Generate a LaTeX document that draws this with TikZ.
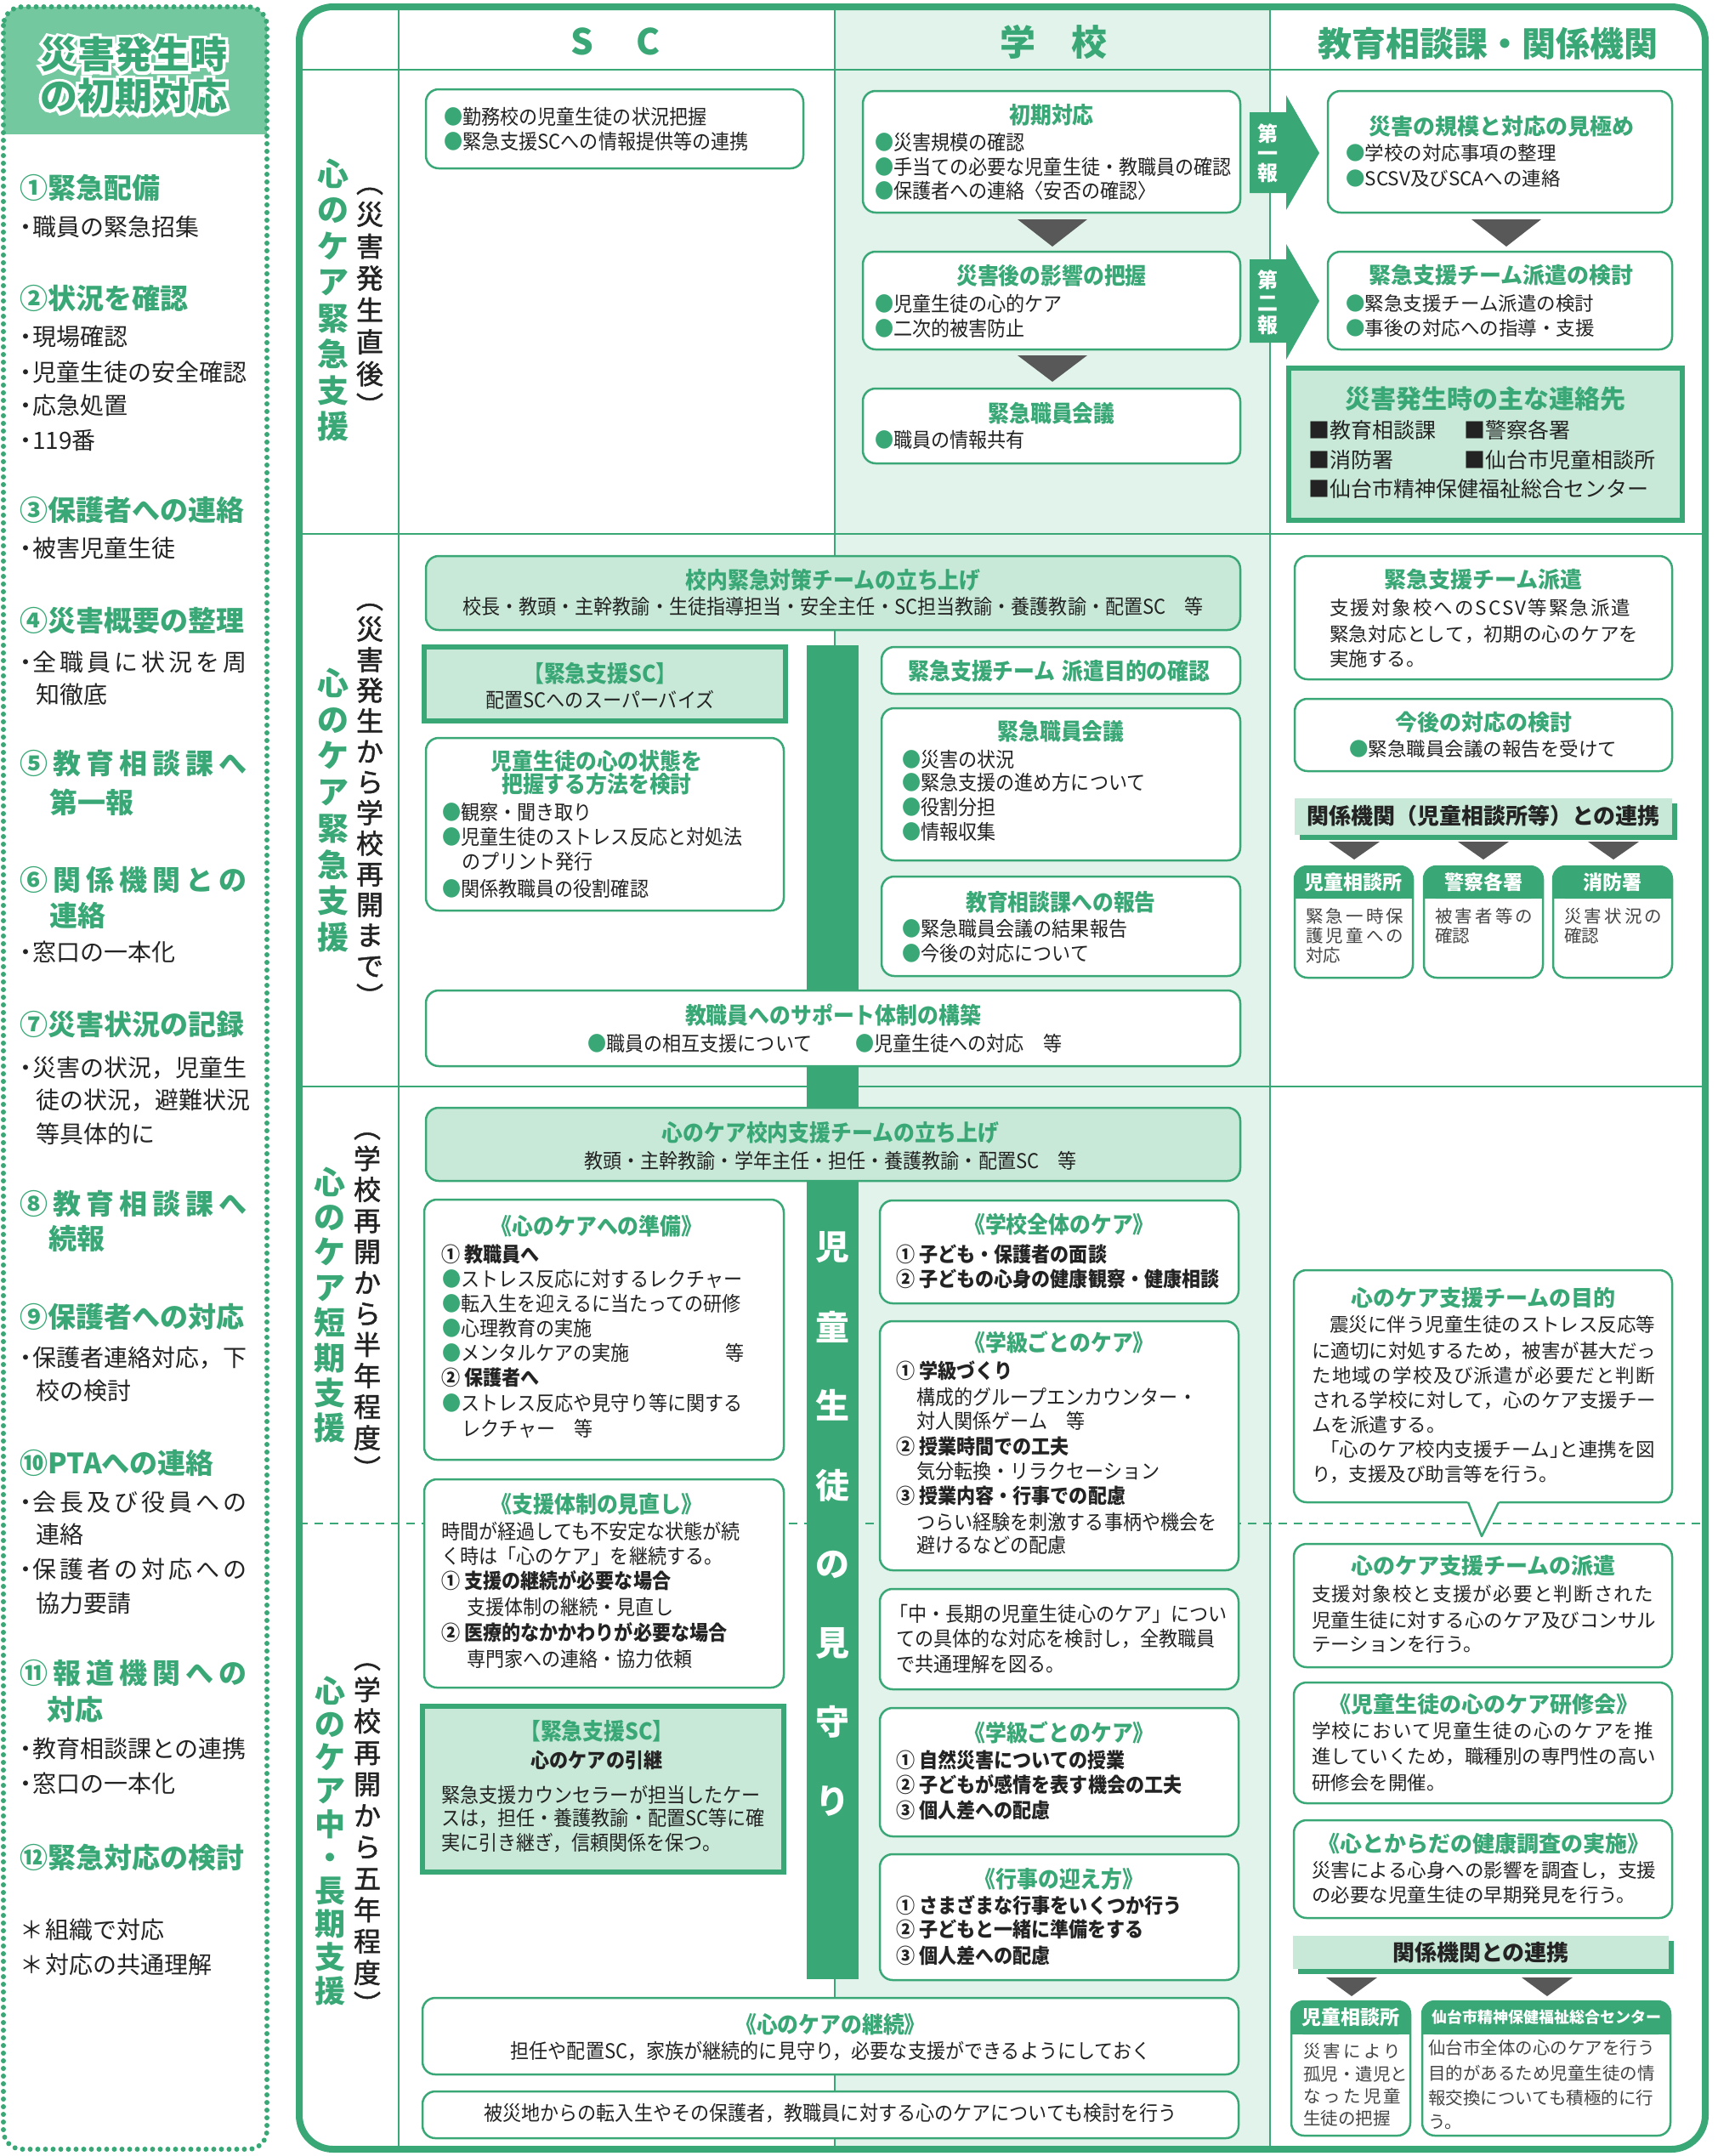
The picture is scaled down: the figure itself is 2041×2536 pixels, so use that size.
\documentclass[tikz,border=0pt]{standalone}
\usepackage{fontspec}
\setmainfont{Noto Sans CJK JP}
\newfontfamily\cnd[FakeStretch=0.92]{Noto Sans CJK JP}
\definecolor{gr}{RGB}{58,168,118}
\definecolor{lg}{RGB}{200,233,216}
\definecolor{col}{RGB}{225,243,234}
\definecolor{hd}{RGB}{115,200,160}
\definecolor{dk}{RGB}{88,88,88}
\definecolor{tx}{RGB}{35,35,35}
\newcounter{tn}
\newcommand\Tnode[5]{\node[txt,#2] (#1) at (#3,#4) {#5};}
\newcommand\T[4][]{\stepcounter{tn}\edef\tmpn{t\arabic{tn}}\expandafter\Tnode\expandafter{\tmpn}{#1}{#2}{#3}{#4}}
\newcommand\Bx[6][box]{\node[#1,anchor=north west,inner sep=0pt,outer sep=0pt,minimum width={#5-#3},minimum height={#6-#4}] (#2) at (#3,#4) {};}
\def\sprA#1{#1\sprB}
\def\sprB#1{\ifx\relax#1\else\hfill#1\expandafter\sprB\fi}
\newcommand\spr[2]{\hbox to #1{\sprA#2\relax}}
\newcommand\B{{\color{gr}●}}
\newcommand\Tri[4]{\fill[dk] ({#1-#3},#2) -- ({#1+#3},#2) -- (#1,{#2+#4}) -- cycle;}
\newcommand\Hd[4]{\fill[gr,rounded corners=14pt] (#1,#2) rectangle (#3,#4); \fill[gr] (#1,{#2+18}) rectangle (#3,#4);}
\begin{document}
\begin{tikzpicture}[x=1pt,y=-1pt,
  txt/.style={anchor=west,inner sep=0pt,text=tx},
  box/.style={draw=gr,line width=2.5pt,rounded corners=15pt,fill=white},
  gbox/.style={box,fill=lg},
  tbox/.style={draw=gr,line width=6pt,fill=lg},
  bnr/.style={fill=lg,draw=none},
  barst/.style={fill=gr,draw=none},
  st/.style={font=\fontsize{44}{46}\selectfont\bfseries,anchor=center},
  sto/.style={font=\fontsize{44}{46}\selectfont\bfseries\addfontfeature{FakeBold=16},anchor=center,text=white},
  sb/.style={font=\fontsize{28}{30}\selectfont},
  sh/.style={font=\fontsize{33}{35}\selectfont\bfseries,text=gr},
  hdr/.style={font=\fontsize{42}{44}\selectfont\bfseries,text=gr,anchor=center},
  ct/.style={font=\cnd\fontsize{24}{26}\selectfont},
  cb/.style={font=\cnd\fontsize{24}{26}\selectfont\bfseries},
  ctl/.style={font=\cnd\fontsize{27}{29}\selectfont\bfseries,text=gr,anchor=center},
  rtx/.style={font=\fontsize{22.5}{24}\selectfont},
  rtt/.style={font=\fontsize{26}{28}\selectfont\bfseries,text=gr,anchor=center},
  bn/.style={font=\fontsize{26}{28}\selectfont\bfseries,anchor=center},
  oh/.style={font=\fontsize{23}{25}\selectfont\bfseries,text=white,anchor=center},
  ob/.style={font=\fontsize{20.5}{22}\selectfont,text=tx!85},
  arw/.style={text=white,anchor=center,align=center},
  bt/.style={font=\fontsize{40}{42}\selectfont\bfseries,text=white,anchor=center},
  vg/.style={text=gr,align=center,anchor=center},
  vb/.style={text=tx,align=center,anchor=center}]
\useasboundingbox (0,0) rectangle (2041,2536);

% ---------------- sidebar ----------------
\begin{scope}
\clip[rounded corners=22pt] (4,8) rectangle (314,2528);
\fill[hd] (0,0) rectangle (320,158);
\end{scope}
\draw[gr,line width=6pt,line cap=round,dash pattern=on 0pt off 9pt,rounded corners=22pt] (4,8) rectangle (314,2528);
\T[sto]{157}{64}{災害発生時}
\T[sto]{157}{113}{の初期対応}
\T[st,text=gr]{157}{64}{災害発生時}
\T[st,text=gr]{157}{113}{の初期対応}

\T[sh]{23}{221}{①緊急配備}
\T[sb]{16}{267}{・\kern-6pt 職員の緊急招集}
\T[sh]{23}{351}{②状況を確認}
\T[sb]{16}{396}{・\kern-6pt 現場確認}
\T[sb]{16}{438}{・\kern-6pt 児童生徒の安全確認}
\T[sb]{16}{477}{・\kern-6pt 応急処置}
\T[sb]{16}{518}{・\kern-6pt 119番}
\T[sh]{23}{600}{③保護者への連絡}
\T[sb]{16}{645}{・\kern-6pt 被害児童生徒}
\T[sh]{23}{730}{④災害概要の整理}
\T[sb]{16}{779}{・\kern-6pt\spr{252pt}{全職員に状況を周}}
\T[sb]{42}{817}{知徹底}
\T[sh]{23}{898}{\spr{267pt}{⑤教育相談課へ}}
\T[sh]{58}{944}{第一報}
\T[sh]{23}{1035}{\spr{267pt}{⑥関係機関との}}
\T[sh]{58}{1077}{連絡}
\T[sb]{16}{1120}{・\kern-6pt 窓口の一本化}
\T[sh]{23}{1205}{⑦災害状況の記録}
\T[sb]{16}{1256}{・\kern-6pt\spr{252pt}{災害の状況，児童生}}
\T[sb]{42}{1294}{\spr{248pt}{徒の状況，避難状況}}
\T[sb]{42}{1334}{等具体的に}
\T[sh]{23}{1416}{\spr{267pt}{⑧教育相談課へ}}
\T[sh]{57}{1457}{続報}
\T[sh]{23}{1549}{⑨保護者への対応}
\T[sb]{16}{1597}{・\kern-6pt\spr{252pt}{保護者連絡対応，下}}
\T[sb]{42}{1636}{校の検討}
\T[sh]{23}{1721}{⑩PTAへの連絡}
\T[sb]{16}{1767}{・\kern-6pt\spr{252pt}{会長及び役員への}}
\T[sb]{42}{1805}{連絡}
\T[sb]{16}{1846}{・\kern-6pt\spr{252pt}{保護者の対応への}}
\T[sb]{42}{1886}{協力要請}
\T[sh]{23}{1968}{\spr{267pt}{⑪報道機関への}}
\T[sh]{55}{2011}{対応}
\T[sb]{16}{2057}{・\kern-6pt 教育相談課との連携}
\T[sb]{16}{2098}{・\kern-6pt 窓口の一本化}
\T[sh]{23}{2185}{⑫緊急対応の検討}
\T[sb]{23}{2270}{＊\kern2pt 組織で対応}
\T[sb]{23}{2311}{＊\kern2pt 対応の共通理解}

% ---------------- main frame ----------------
\fill[col] (982,8) rectangle (1494,2528);
\draw[gr,line width=2.5pt] (469,8) -- (469,2528) (982,8) -- (982,2528) (1494,8) -- (1494,2528)
  (352,82) -- (2006,82) (352,628) -- (2006,628) (352,1278) -- (2006,1278);
\draw[gr,line width=2pt,dash pattern=on 10pt off 8pt] (352,1792) -- (2006,1792);
\draw[gr,line width=8pt,rounded corners=40pt] (352,8) rectangle (2006,2528);

\T[hdr]{724}{49}{S\hspace{50pt}C}
\T[hdr]{1239}{49}{学\hspace{42pt}校}
\T[hdr,font=\fontsize{40}{42}\selectfont\bfseries]{1750}{51}{教育相談課・関係機関}

% vertical labels
\T[vg,font=\fontsize{37}{42.5}\selectfont\bfseries]{392}{353}{心\\の\\ケ\\ア\\緊\\急\\支\\援}
\T[vb,font=\fontsize{32}{37.5}\selectfont\addfontfeature{FakeBold=1.5}]{435}{355}{︵\\災\\害\\発\\生\\直\\後\\︶}
\T[vg,font=\fontsize{37}{42.7}\selectfont\bfseries]{392}{953}{心\\の\\ケ\\ア\\緊\\急\\支\\援}
\T[vb,font=\fontsize{32}{36}\selectfont\addfontfeature{FakeBold=1.5}]{435}{947}{︵\\災\\害\\発\\生\\か\\ら\\学\\校\\再\\開\\ま\\で\\︶}
\T[vg,font=\fontsize{37}{41.4}\selectfont\bfseries]{388}{1535}{心\\の\\ケ\\ア\\短\\期\\支\\援}
\T[vb,font=\fontsize{32}{36.5}\selectfont\addfontfeature{FakeBold=1.5}]{432}{1536}{︵\\学\\校\\再\\開\\か\\ら\\半\\年\\程\\度\\︶}
\T[vg,font=\fontsize{36}{39.2}\selectfont\bfseries]{388}{2165}{心\\の\\ケ\\ア\\中\\・\\長\\期\\支\\援}
\T[vb,font=\fontsize{32}{37}\selectfont\addfontfeature{FakeBold=1.5}]{432}{2163}{︵\\学\\校\\再\\開\\か\\ら\\五\\年\\程\\度\\︶}

% central bar
\Bx[barst]{bar}{949}{759}{1010}{2328}
\foreach \c/\yy in {児/1467,童/1561,生/1653,徒/1747,の/1840,見/1933,守/2025,り/2119}{
  \T[bt]{979}{\yy}{\c}
}

% ---------------- section 1 ----------------
\Bx{sc1}{501}{105}{945}{198}
\T[ct]{522}{137}{\B 勤務校の児童生徒の状況把握}
\T[ct]{522}{166}{\B 緊急支援SCへの情報提供等の連携}

\Bx{s1}{1015}{107}{1459}{250}
\T[ctl]{1237}{135}{初期対応}
\T[ct]{1029}{167}{\B 災害規模の確認}
\T[ct]{1029}{196}{\B 手当ての必要な児童生徒・教職員の確認}
\T[ct]{1029}{224}{\B 保護者への連絡〈安否の確認〉}
\Tri{1238}{258}{41}{32}
\Bx{s2}{1015}{296}{1459}{411}
\T[ctl]{1237}{324}{災害後の影響の把握}
\T[ct]{1029}{357}{\B 児童生徒の心的ケア}
\T[ct]{1029}{386}{\B 二次的被害防止}
\Tri{1238}{418}{41}{31}
\Bx{s3}{1015}{457}{1459}{545}
\T[ctl]{1237}{486}{緊急職員会議}
\T[ct]{1029}{517}{\B 職員の情報共有}

\fill[gr] (1470,132) -- (1513,132) -- (1513,112) -- (1552,180) -- (1513,247) -- (1513,227) -- (1470,227) -- cycle;
\T[arw,font=\fontsize{24}{23}\selectfont\bfseries]{1491}{180}{第\\一\\報}
\fill[gr] (1470,305) -- (1513,305) -- (1513,287) -- (1552,354) -- (1513,423) -- (1513,403) -- (1470,403) -- cycle;
\T[arw,font=\fontsize{24}{26.5}\selectfont\bfseries]{1491}{356}{第\\二\\報}

\Bx{r1}{1562}{107}{1967}{250}
\T[rtt]{1766}{149}{災害の規模と対応の見極め}
\T[rtx]{1583}{180}{\B 学校の対応事項の整理}
\T[rtx]{1583}{210}{\B SCSV及びSCAへの連絡}
\Tri{1772}{258}{41}{32}
\Bx{r2}{1562}{296}{1967}{411}
\T[rtt]{1766}{324}{緊急支援チーム派遣の検討}
\T[rtx]{1583}{357}{\B 緊急支援チーム派遣の検討}
\T[rtx]{1583}{386}{\B 事後の対応への指導・支援}
\Bx[tbox]{r3}{1516}{433}{1979}{612}
\T[rtt,font=\fontsize{30}{32}\selectfont\bfseries]{1747}{469}{災害発生時の主な連絡先}
\T[font=\fontsize{25}{27}\selectfont]{1539}{506}{■教育相談課}
\T[font=\fontsize{25}{27}\selectfont]{1722}{506}{■警察各署}
\T[font=\fontsize{25}{27}\selectfont]{1539}{541}{■消防署}
\T[font=\fontsize{25}{27}\selectfont]{1722}{541}{■仙台市児童相談所}
\T[font=\fontsize{25}{27}\selectfont]{1539}{575}{■仙台市精神保健福祉総合センター}

% ---------------- section 2 ----------------
\Bx[gbox]{s4}{501}{654}{1459}{741}
\T[ctl]{980}{682}{校内緊急対策チームの立ち上げ}
\T[ct,anchor=center]{980}{713}{校長・教頭・主幹教諭・生徒指導担当・安全主任・SC担当教諭・養護教諭・配置SC　等}

\Bx[tbox]{s5}{499}{761}{924}{848}
\T[ctl]{706}{792}{【緊急支援SC】}
\T[ct,anchor=center]{706}{823}{配置SCへのスーパーバイズ}

\Bx{s6}{501}{868}{922}{1071}
\T[ctl]{702}{895}{児童生徒の心の状態を}
\T[ctl]{702}{922}{把握する方法を検討}
\T[ct]{520}{955}{\B 観察・聞き取り}
\T[ct]{520}{984}{\B 児童生徒のストレス反応と対処法}
\T[ct]{543}{1013}{のプリント発行}
\T[ct]{520}{1045}{\B 関係教職員の役割確認}

\Bx{s7}{1037}{761}{1459}{816}
\T[ctl]{1246}{789}{緊急支援チーム\hspace{8pt}派遣目的の確認}
\Bx{s8}{1037}{833}{1459}{1012}
\T[ctl]{1248}{860}{緊急職員会議}
\T[ct]{1061}{893}{\B 災害の状況}
\T[ct]{1061}{920}{\B 緊急支援の進め方について}
\T[ct]{1061}{949}{\B 役割分担}
\T[ct]{1061}{978}{\B 情報収集}
\Bx{s9}{1037}{1031}{1459}{1148}
\T[ctl]{1248}{1061}{教育相談課への報告}
\T[ct]{1061}{1092}{\B 緊急職員会議の結果報告}
\T[ct]{1061}{1121}{\B 今後の対応について}
\Bx{s10}{501}{1165}{1459}{1254}
\T[ctl]{980}{1194}{教職員へのサポート体制の構築}
\T[ct]{691}{1227}{\B 職員の相互支援について}
\T[ct]{1006}{1227}{\B 児童生徒への対応　等}

\Bx{r4}{1523}{654}{1967}{799}
\T[rtt]{1745}{682}{緊急支援チーム派遣}
\T[rtx]{1564}{715}{\spr{354pt}{支援対象校へのSCSV等緊急派遣}}
\T[rtx]{1564}{746}{\spr{363pt}{緊急対応として，初期の心のケアを}}
\T[rtx]{1564}{775}{実施する。}
\Bx{r5}{1523}{822}{1967}{907}
\T[rtt]{1745}{850}{今後の対応の検討}
\T[rtx]{1587}{881}{\B 緊急職員会議の報告を受けて}
\fill[gr] (1529,945) rectangle (1973,988);
\Bx[bnr]{r6}{1523}{939}{1967}{982}
\T[bn]{1745}{960}{関係機関（児童相談所等）との連携}
\Tri{1593}{990}{30}{21}
\Tri{1745}{990}{30}{21}
\Tri{1898}{990}{30}{21}
\Bx{r7a}{1523}{1019}{1662}{1150}
\Hd{1523}{1019}{1662}{1057}
\T[oh]{1592}{1038}{児童相談所}
\T[ob]{1536}{1078}{\spr{115pt}{緊急一時保}}
\T[ob]{1536}{1101}{\spr{115pt}{護児童への}}
\T[ob]{1536}{1124}{対応}
\Bx{r7b}{1675}{1019}{1815}{1150}
\Hd{1675}{1019}{1815}{1057}
\T[oh]{1745}{1038}{警察各署}
\T[ob]{1688}{1078}{\spr{115pt}{被害者等の}}
\T[ob]{1688}{1101}{確認}
\Bx{r7c}{1827}{1019}{1967}{1150}
\Hd{1827}{1019}{1967}{1057}
\T[oh]{1897}{1038}{消防署}
\T[ob]{1840}{1078}{\spr{115pt}{災害状況の}}
\T[ob]{1840}{1101}{確認}

% ---------------- section 3 ----------------
\Bx[gbox]{s11}{501}{1303}{1459}{1389}
\T[ctl]{977}{1332}{心のケア校内支援チームの立ち上げ}
\T[ct,anchor=center]{977}{1365}{教頭・主幹教諭・学年主任・担任・養護教諭・配置SC　等}

\Bx{s12}{499}{1411}{922}{1717}
\T[ctl]{702}{1442}{《心のケアへの準備》}
\T[cb]{519}{1475}{① 教職員へ}
\T[ct]{520}{1504}{\B ストレス反応に対するレクチャー}
\T[ct]{520}{1533}{\B 転入生を迎えるに当たっての研修}
\T[ct]{520}{1562}{\B 心理教育の実施}
\T[ct]{520}{1591}{\B メンタルケアの実施}
\T[ct]{853}{1591}{等}
\T[cb]{519}{1620}{② 保護者へ}
\T[ct]{520}{1650}{\B ストレス反応や見守り等に関する}
\T[ct]{543}{1680}{レクチャー　等}

\Bx{s13}{499}{1740}{922}{1985}
\T[ctl]{702}{1769}{《支援体制の見直し》}
\T[ct]{519}{1801}{時間が経過しても不安定な状態が続}
\T[ct]{519}{1830}{く時は「心のケア」を継続する。}
\T[cb]{519}{1859}{① 支援の継続が必要な場合}
\T[ct]{549}{1890}{支援体制の継続・見直し}
\T[cb]{519}{1920}{② 医療的なかかわりが必要な場合}
\T[ct]{549}{1951}{専門家への連絡・協力依頼}

\Bx[tbox]{s14}{497}{2007}{922}{2202}
\T[ctl]{702}{2036}{【緊急支援SC】}
\T[cb,anchor=center]{702}{2070}{心のケアの引継}
\T[ct]{519}{2111}{緊急支援カウンセラーが担当したケー}
\T[ct]{519}{2139}{スは，担任・養護教諭・配置SC等に確}
\T[ct]{519}{2168}{実に引き継ぎ，信頼関係を保つ。}

\Bx{s15}{1035}{1412}{1457}{1533}
\T[ctl]{1246}{1440}{《学校全体のケア》}
\T[cb]{1054}{1475}{① 子ども・保護者の面談}
\T[cb]{1054}{1504}{② 子どもの心身の健康観察・健康相談}
\Bx{s16}{1035}{1554}{1457}{1847}
\T[ctl]{1246}{1579}{《学級ごとのケア》}
\T[cb]{1054}{1612}{① 学級づくり}
\T[ct]{1078}{1643}{構成的グループエンカウンター・}
\T[ct]{1078}{1671}{対人関係ゲーム　等}
\T[cb]{1054}{1701}{② 授業時間での工夫}
\T[ct]{1078}{1730}{気分転換・リラクセーション}
\T[cb]{1054}{1759}{③ 授業内容・行事での配慮}
\T[ct]{1078}{1790}{つらい経験を刺激する事柄や機会を}
\T[ct]{1078}{1817}{避けるなどの配慮}
\Bx{s17}{1035}{1869}{1457}{1987}
\T[ct]{1046}{1898}{「中・長期の児童生徒心のケア」につい}
\T[ct]{1054}{1928}{ての具体的な対応を検討し，全教職員}
\T[ct]{1054}{1957}{で共通理解を図る。}
\Bx{s18}{1035}{2009}{1457}{2160}
\T[ctl]{1246}{2038}{《学級ごとのケア》}
\T[cb]{1054}{2070}{① 自然災害についての授業}
\T[cb]{1054}{2099}{② 子どもが感情を表す機会の工夫}
\T[cb]{1054}{2129}{③ 個人差への配慮}
\Bx{s19}{1035}{2181}{1457}{2329}
\T[ctl]{1246}{2210}{《行事の迎え方》}
\T[cb]{1054}{2241}{① さまざまな行事をいくつか行う}
\T[cb]{1054}{2269}{② 子どもと一緒に準備をする}
\T[cb]{1054}{2300}{③ 個人差への配慮}
\Bx{s20}{497}{2350}{1457}{2440}
\T[ctl]{977}{2381}{《心のケアの継続》}
\T[ct,anchor=center]{977}{2413}{担任や配置SC，家族が継続的に見守り，必要な支援ができるようにしておく}
\Bx{s21}{497}{2460}{1457}{2515}
\T[ct,anchor=center]{977}{2486}{被災地からの転入生やその保護者，教職員に対する心のケアについても検討を行う}

% right column section 3
\Bx{r8}{1522}{1494}{1967}{1767}
\fill[white] (1726,1765) -- (1764,1765) -- (1743,1807) -- cycle;
\draw[gr,line width=2.5pt,line join=round] (1727,1767) -- (1743,1807) -- (1763,1767);
\T[rtt]{1745}{1527}{心のケア支援チームの目的}
\T[rtx]{1564}{1558}{\spr{383pt}{震災に伴う児童生徒のストレス反応等}}
\T[rtx]{1543}{1589}{\spr{404pt}{に適切に対処するため，被害が甚大だっ}}
\T[rtx]{1543}{1618}{\spr{404pt}{た地域の学校及び派遣が必要だと判断}}
\T[rtx]{1543}{1647}{\spr{404pt}{される学校に対して，心のケア支援チー}}
\T[rtx]{1543}{1676}{ムを派遣する。}
\T[rtx]{1564}{1705}{\spr{383pt}{{\kern-11pt「}心のケア校内支援チーム{」\kern-11pt}と連携を図}}
\T[rtx]{1543}{1734}{り，支援及び助言等を行う。}

\Bx{r9}{1522}{1816}{1967}{1961}
\T[rtt]{1745}{1842}{心のケア支援チームの派遣}
\T[rtx]{1543}{1875}{\spr{402pt}{支援対象校と支援が必要と判断された}}
\T[rtx]{1543}{1906}{\spr{402pt}{児童生徒に対する心のケア及びコンサル}}
\T[rtx]{1543}{1934}{テーションを行う。}
\Bx{r10}{1522}{1979}{1967}{2121}
\T[rtt]{1745}{2005}{《児童生徒の心のケア研修会》}
\T[rtx]{1543}{2036}{\spr{402pt}{学校において児童生徒の心のケアを推}}
\T[rtx]{1543}{2066}{\spr{402pt}{進していくため，職種別の専門性の高い}}
\T[rtx]{1543}{2097}{研修会を開催。}
\Bx{r11}{1522}{2141}{1967}{2256}
\T[rtt]{1745}{2169}{《心とからだの健康調査の実施》}
\T[rtx]{1543}{2200}{\spr{402pt}{災害による心身への影響を調査し，支援}}
\T[rtx]{1543}{2229}{の必要な児童生徒の早期発見を行う。}
\fill[gr] (1527,2283) rectangle (1969,2322);
\Bx[bnr]{r12}{1521}{2277}{1963}{2316}
\T[bn]{1742}{2297}{関係機関との連携}
\Tri{1590}{2326}{30}{22}
\Tri{1820}{2326}{30}{22}
\Bx{r13}{1519}{2354}{1659}{2512}
\Hd{1519}{2354}{1659}{2393}
\T[oh]{1589}{2373}{児童相談所}
\T[ob]{1533}{2413}{\spr{115pt}{災害により}}
\T[ob]{1533}{2440}{\spr{115pt}{孤児・遺児と}}
\T[ob]{1533}{2466}{\spr{115pt}{なった児童}}
\T[ob]{1533}{2492}{生徒の把握}
\Bx{r14}{1673}{2354}{1965}{2512}
\Hd{1673}{2354}{1965}{2393}
\T[oh,font=\fontsize{18}{20}\selectfont\bfseries]{1819}{2373}{仙台市精神保健福祉総合センター}
\T[ob]{1680}{2409}{仙台市全体の心のケアを行う}
\T[ob]{1680}{2439}{目的があるため児童生徒の情}
\T[ob]{1680}{2468}{報交換についても積極的に行}
\T[ob]{1680}{2496}{う。}
\end{tikzpicture}
\end{document}
